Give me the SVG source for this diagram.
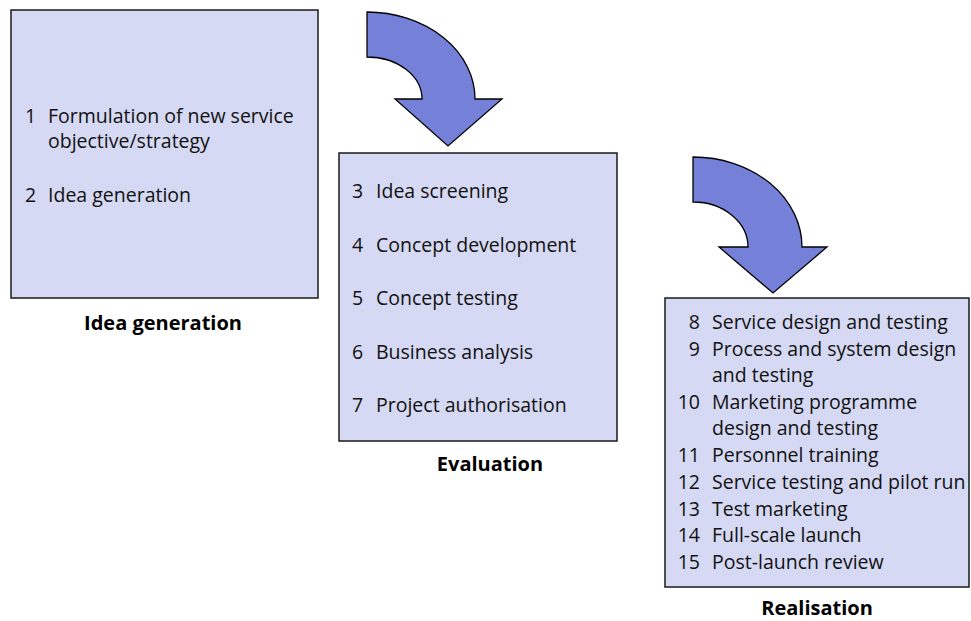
<svg xmlns="http://www.w3.org/2000/svg" width="971" height="621" viewBox="0 0 971 621">
  <style>
    .box { fill: #d6d9f3; stroke: #1a1a1a; stroke-width: 1.5; }
    .arrow { fill: #7581d8; stroke: #000; stroke-width: 1.3; stroke-linejoin: miter; }
    .item { font-family: "Open Sans", "Noto Sans", sans-serif; font-size: 19.5px; fill: #111; }
    .title { font-family: "Open Sans", "Noto Sans", sans-serif; font-size: 20px; font-weight: bold; fill: #000; text-anchor: middle; }
    .num { text-anchor: end; }
  </style>
  <rect width="971" height="621" fill="#fff"/>

  <!-- Stage 1 -->
  <g id="idea-generation">
    <rect class="box" x="11" y="10" width="307" height="288"/>
    <text class="item" x="25" y="123">1</text>
    <text class="item" x="48" y="123">Formulation of new service</text>
    <text class="item" x="48" y="148">objective/strategy</text>
    <text class="item" x="25" y="202">2</text>
    <text class="item" x="48" y="202">Idea generation</text>
    <text class="title" x="163" y="330">Idea generation</text>
  </g>

  <!-- Stage 2 -->
  <g id="evaluation">
    <rect class="box" x="339" y="153" width="278" height="288"/>
    <text class="item" x="352" y="198">3</text>
    <text class="item" x="376" y="198">Idea screening</text>
    <text class="item" x="352" y="252">4</text>
    <text class="item" x="376" y="252">Concept development</text>
    <text class="item" x="352" y="305">5</text>
    <text class="item" x="376" y="305">Concept testing</text>
    <text class="item" x="352" y="359">6</text>
    <text class="item" x="376" y="359">Business analysis</text>
    <text class="item" x="352" y="412">7</text>
    <text class="item" x="376" y="412">Project authorisation</text>
    <text class="title" x="490" y="471">Evaluation</text>
  </g>

  <!-- Stage 3 -->
  <g id="realisation">
    <rect class="box" x="665" y="298" width="304" height="289"/>
    <text class="item num" x="700" y="329">8</text>
    <text class="item" x="712" y="329">Service design and testing</text>
    <text class="item num" x="700" y="356">9</text>
    <text class="item" x="712" y="356">Process and system design</text>
    <text class="item" x="712" y="382">and testing</text>
    <text class="item num" x="700" y="409">10</text>
    <text class="item" x="712" y="409">Marketing programme</text>
    <text class="item" x="712" y="435">design and testing</text>
    <text class="item num" x="700" y="462">11</text>
    <text class="item" x="712" y="462">Personnel training</text>
    <text class="item num" x="700" y="489">12</text>
    <text class="item" x="712" y="489">Service testing and pilot run</text>
    <text class="item num" x="700" y="516">13</text>
    <text class="item" x="712" y="516">Test marketing</text>
    <text class="item num" x="700" y="542">14</text>
    <text class="item" x="712" y="542">Full-scale launch</text>
    <text class="item num" x="700" y="569">15</text>
    <text class="item" x="712" y="569">Post-launch review</text>
    <text class="title" x="817" y="615">Realisation</text>
  </g>

  <!-- Curved block arrows between stages -->
  <g id="connectors">
    <path class="arrow" d="M367,12 A108,87 0 0 1 475,99 L502,99 L448,146 L395,99 L422,99 A55,42 0 0 0 367,57 Z"/>
    <path class="arrow" d="M693,157 A109,90 0 0 1 802,247 L827,247 L773,293 L719,247 L748,247 A55,45 0 0 0 693,202 Z"/>
  </g>
</svg>
